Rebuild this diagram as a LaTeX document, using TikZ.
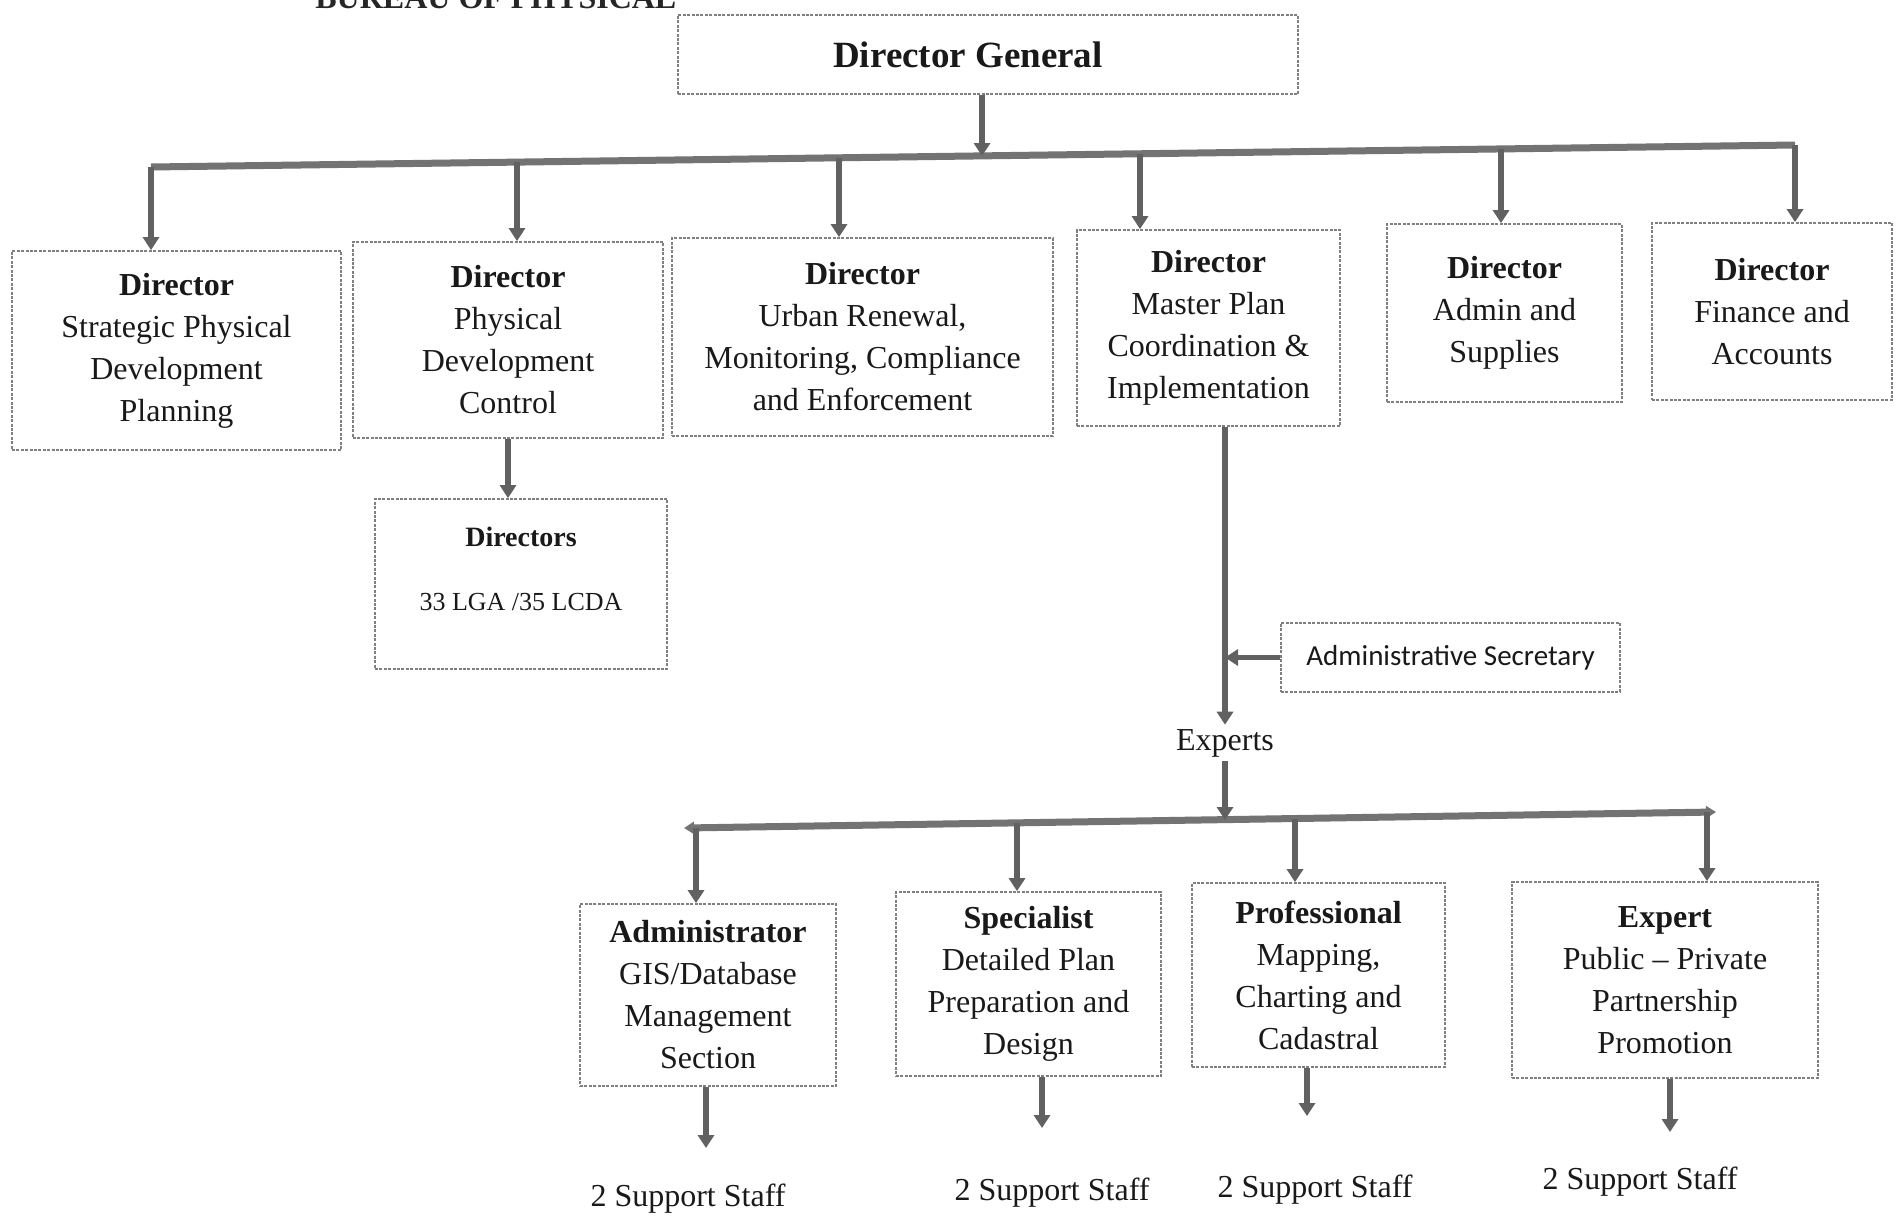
\documentclass[tikz,border=0pt]{standalone}
\usepackage{fontspec}
\setmainfont{Liberation Serif}
\newfontfamily\calib{Carlito}
\usetikzlibrary{arrows.meta}
\tikzset{
  box/.style={draw=black!50, line width=0.9pt, dash pattern=on 1.5pt off 0.7pt,
    fill=white, align=center, inner sep=0pt, text=black!90,
    font=\fontsize{16}{21}\selectfont},
  conn/.style={draw=black!62, line width=2.8pt},
  arr/.style={conn, -{Triangle[length=6.5pt,width=8pt]}},
  bar/.style={draw=black!55, line width=3.5pt},
  lbl/.style={inner sep=2pt, text=black!90, font=\fontsize{16}{21}\selectfont},
}
\begin{document}
\begin{tikzpicture}[x=0.5pt,y=-0.5pt]
\useasboundingbox (0,0) rectangle (1898,1216);
\fill[white] (0,0) rectangle (1898,1216);

% header (cut by the page edge, as in the scan)
\node[anchor=base west, inner sep=0pt, font=\fontsize{16}{19}\selectfont\bfseries, text=black!85] (hdr) at (315,8) {BUREAU OF PHYSICAL};

% Director General
\node[box, minimum width=310pt, minimum height=39.5pt, font=\fontsize{18.5}{22}\selectfont\bfseries] (dg) at (988,54.5) {Director General\hspace*{20pt}};

% Directors row
\node[box, minimum width=164.5pt, minimum height=99.5pt] (b1) at (176.5,350.5) {\textbf{Director}\\Strategic Physical\\Development\\Planning};
\node[box, minimum width=155pt, minimum height=98pt] (b2) at (508,340) {\textbf{Director}\\Physical\\Development\\Control};
\node[box, minimum width=190.5pt, minimum height=99pt] (b3) at (862.5,337) {\textbf{Director}\\Urban Renewal,\\Monitoring, Compliance\\and Enforcement};
\node[box, minimum width=131.5pt, minimum height=98pt] (b4) at (1208.5,328) {\textbf{Director}\\Master Plan\\Coordination \&\\Implementation};
\node[box, minimum width=117.5pt, minimum height=89pt] (b5) at (1504.5,313) {\textbf{Director}\\Admin and\\Supplies};
\node[box, minimum width=120pt, minimum height=88.5pt] (b6) at (1772,311.5) {\textbf{Director}\\Finance and\\Accounts};

% LGA directors
\node[box, minimum width=146pt, minimum height=85pt, font=\fontsize{13}{15}\selectfont] (lga) at (521,584) {\fontsize{14}{16}\selectfont\textbf{Directors}\\[17pt]33 LGA /35 LCDA\\\mbox{}};

% Administrative secretary and experts
\node[box, minimum width=169.5pt, minimum height=34.5pt, font=\calib\fontsize{14.5}{17}\selectfont] (as) at (1450.5,657.5) {Administrative Secretary};
\node[lbl] (ex) at (1225,743) {Experts};

% Experts row
\node[box, minimum width=128pt, minimum height=91pt] (e1) at (708,995) {\textbf{Administrator}\\GIS/Database\\Management\\Section};
\node[box, minimum width=132.5pt, minimum height=92pt] (e2) at (1028.5,984) {\textbf{Specialist}\\Detailed Plan\\Preparation and\\Design};
\node[box, minimum width=126.5pt, minimum height=92pt] (e3) at (1318.5,975) {\textbf{Professional}\\Mapping,\\Charting and\\Cadastral};
\node[box, minimum width=153pt, minimum height=98pt] (e4) at (1665,980) {\textbf{Expert}\\Public -- Private\\Partnership\\Promotion};

% support staff
\node[lbl] (s1) at (688,1199) {2 Support Staff};
\node[lbl] (s2) at (1052,1193) {2 Support Staff};
\node[lbl] (s3) at (1315,1190) {2 Support Staff};
\node[lbl] (s4) at (1640,1182) {2 Support Staff};

% top distribution bar
\coordinate (t1) at (151,167);
\coordinate (t2) at (517,162);
\coordinate (t3) at (839,158);
\coordinate (t0) at (982,156);
\coordinate (t4) at (1140,154);
\coordinate (t5) at (1501,149);
\coordinate (t6) at (1795,145);
\draw[bar] (t1) -- (t6);
\draw[arr] (t0 |- dg.south) -- (t0);
\draw[arr] (t1) -- (t1 |- b1.north);
\draw[arr] (t2) -- (t2 |- b2.north);
\draw[arr] (t3) -- (t3 |- b3.north);
\draw[arr] (t4) -- (t4 |- b4.north);
\draw[arr] (t5) -- (t5 |- b5.north);
\draw[arr] (t6) -- (t6 |- b6.north);

% PDC to LGA directors
\draw[arr] (b2.south) -- (b2.south |- lga.north);

% master plan to experts
\draw[arr, line width=3.3pt] (ex.north |- b4.south) -- (ex.north);
\draw[arr] (as.west) -- (as.west -| ex.north);

% experts distribution bar
\coordinate (m0) at (1225,820);
\coordinate (ml) at (684,828);
\coordinate (mr) at (1716,812);
\coordinate (m1) at (696,828);
\coordinate (m2) at (1017,823);
\coordinate (m3) at (1295,818.5);
\coordinate (m4) at (1707,812);
\draw[bar, {Triangle[length=5pt,width=6pt]}-{Triangle[length=5pt,width=6pt]}] (ml) -- (mr);
\draw[arr] (ex.south) -- (m0);
\draw[arr] (m1) -- (m1 |- e1.north);
\draw[arr] (m2) -- (m2 |- e2.north);
\draw[arr] (m3) -- (m3 |- e3.north);
\draw[arr] (m4) -- (m4 |- e4.north);

% to support staff
\coordinate (u1) at (706,1148);
\coordinate (u2) at (1042,1128);
\coordinate (u3) at (1307,1116);
\coordinate (u4) at (1670,1132);
\draw[arr] (u1 |- e1.south) -- (u1);
\draw[arr] (u2 |- e2.south) -- (u2);
\draw[arr] (u3 |- e3.south) -- (u3);
\draw[arr] (u4 |- e4.south) -- (u4);
\end{tikzpicture}
\end{document}
